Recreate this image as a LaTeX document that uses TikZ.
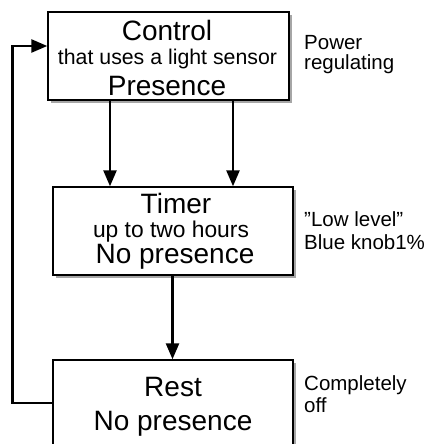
\documentclass[tikz,border=0pt]{standalone}
\usepackage{fontspec}
\setmainfont{Liberation Sans}
\usetikzlibrary{arrows.meta,calc}
\tikzset{
  box/.style={draw=black, line width=1.4pt, fill=white, rectangle, inner sep=0pt},
  shadowbox/.style={fill=black!35, draw=none},
  arr/.style={line width=2.5pt, -{Triangle[length=16pt,width=13pt]}},
  big/.style={font=\fontsize{28}{30}\selectfont, anchor=base, inner sep=0pt},
  small/.style={font=\fontsize{21.3}{24}\selectfont, anchor=base, inner sep=0pt},
  smallb/.style={font=\fontsize{22.8}{24}\selectfont, anchor=base, inner sep=0pt},
  lbl/.style={font=\fontsize{20.5}{22}\selectfont, anchor=base west, inner sep=0pt}
}
\begin{document}
\begin{tikzpicture}[x=1pt,y=-1pt]
\clip (0,0) rectangle (434,444);
\fill[white] (0,0) rectangle (434,444);
% shadows
\fill[shadowbox] (51,15) rectangle (292,103);
\fill[shadowbox] (56,190) rectangle (296,278);
\fill[shadowbox] (56,363) rectangle (296,480);
% boxes
\node[box, minimum width=241pt, minimum height=88pt] (b1) at (168.5,56) {};
\node[box, minimum width=240pt, minimum height=88pt] (b2) at (173,231) {};
\node[box, minimum width=240pt, minimum height=117pt] (b3) at (173,418.5) {};
% box texts
\node[big] (t1a) at (167,40.7) {Control};
\node[small] (t1b) at (167.5,64.3) {that uses a light sensor};
\node[big] (t1c) at (167,95) {Presence};
\node[big] (t2a) at (176,213.3) {Timer};
\node[smallb] (t2b) at (171,237.3) {up to two hours};
\node[big] (t2c) at (175,263.3) {No presence};
\node[big] (t3a) at (173,396.7) {Rest};
\node[big] (t3b) at (173,430) {No presence};
% side labels
\node[lbl] (l1a) at (304,49) {Power};
\node[lbl] (l1b) at (304,69.5) {regulating};
\node[lbl] (l2a) at (304,226.7) {”Low level”};
\node[lbl] (l2b) at (304,249.3) {Blue knob1\%};
\node[lbl] (l3a) at (304,390) {Completely};
\node[lbl] (l3b) at (304,412) {off};
% connectors
\coordinate (c1) at (110,0);
\coordinate (c2) at (233,0);
\coordinate (c3) at (172.5,0);
\coordinate (lb) at (12.5,403);
\coordinate (lt) at (12.5,46);
\draw[arr] (b1.south -| c1) -- (b2.north -| c1);
\draw[arr] (b1.south -| c2) -- (b2.north -| c2);
\draw[arr] (b2.south -| c3) -- (b3.north -| c3);
\draw[arr] (b3.west |- lb) -- (lb) -- (lt) -- (b1.west |- lt);
\end{tikzpicture}
\end{document}
